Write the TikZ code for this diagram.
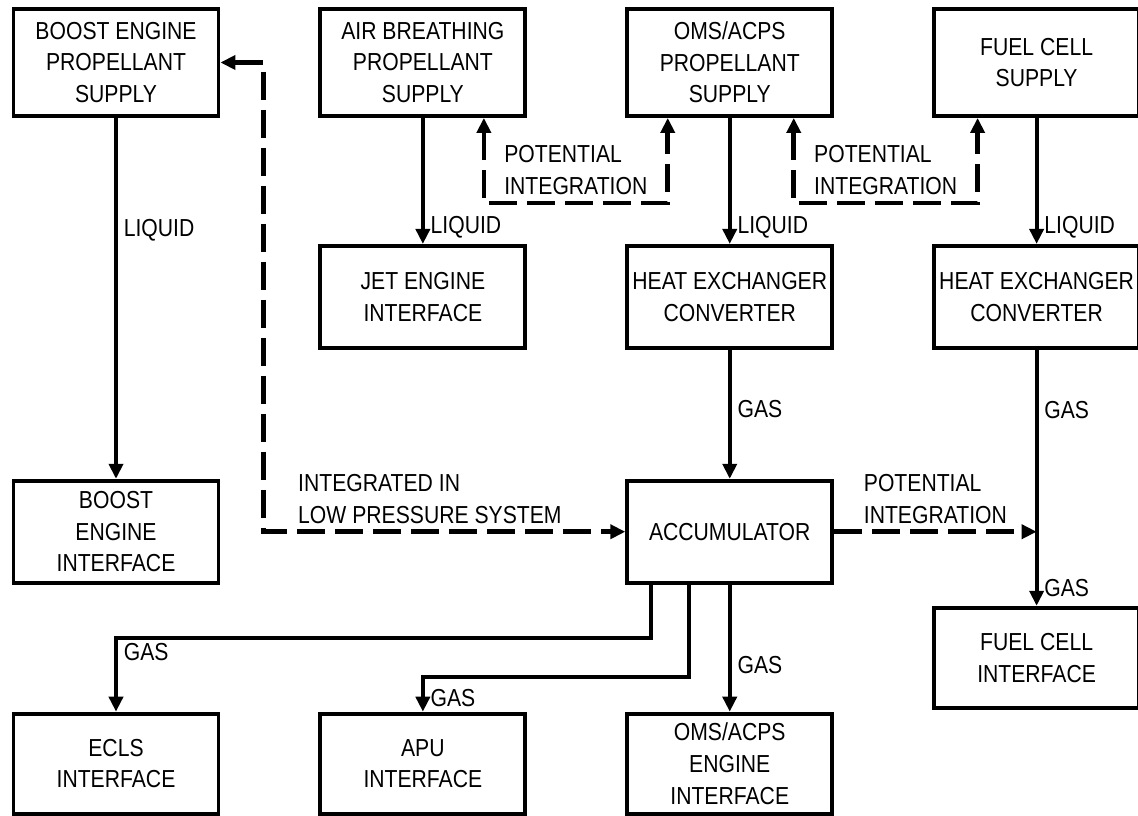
\documentclass[tikz,border=0pt]{standalone}
\usepackage{fontspec}
\setmainfont{Liberation Sans}[FakeStretch=0.86]
\usetikzlibrary{
    arrows.meta,
    positioning
}

\begin{document}
\begin{tikzpicture}[
        font=\fontsize{14}{18}\selectfont,
        node distance=2.52cm and 1.96cm,
        >={Triangle[length=0.3cm,width=0.28cm]},
        box/.style={
            rectangle,
            draw,
            line width=2.2pt,
            align=center,
            inner sep=1pt,
            minimum width=4.1cm,
            minimum height=2.04cm
        },
        supply/.style={
            box,
            minimum height=2.14cm
        },
        line/.style={
            ->,
            line width=2.2pt
        },
        dline/.style={
            line width=2.6pt,
            dash pattern=on 0.56cm off 0.2cm
        }
    ]

    \useasboundingbox (0,0) rectangle (22.76,-16.32);

    % supplies
    \node[supply] (boost) at (2.32,-1.25)
        {BOOST ENGINE\\PROPELLANT\\SUPPLY};
    \node[supply, right=of boost] (air)
        {AIR BREATHING\\PROPELLANT\\SUPPLY};
    \node[supply, right=of air] (oms)
        {OMS/ACPS\\PROPELLANT\\SUPPLY};
    \node[supply, right=of oms] (fuel)
        {FUEL CELL\\SUPPLY};

    % converters
    \node[box, below=of air] (jet)
        {JET ENGINE\\INTERFACE};
    \node[box, below=of oms] (hx1)
        {HEAT EXCHANGER\\CONVERTER};
    \node[box, below=of fuel] (hx2)
        {HEAT EXCHANGER\\CONVERTER};

    \node[box, below=2.58cm of hx1] (acc)
        {ACCUMULATOR};
    \node[box] (boostif) at (boost |- acc)
        {BOOST\\ENGINE\\INTERFACE};
    \node[box, minimum height=2.0cm, below=5.12cm of hx2] (fcif)
        {FUEL CELL\\INTERFACE};

    % interfaces
    \node[box, minimum height=2.0cm, below=2.54cm of acc] (omse)
        {OMS/ACPS\\ENGINE\\INTERFACE};
    \node[box, minimum height=2.0cm, left=of omse] (apu)
        {APU\\INTERFACE};
    \node[box, minimum height=2.0cm, left=of apu] (ecls)
        {ECLS\\INTERFACE};

    \coordinate (tap) at (acc -| hx2);

    \draw[line] (boost) -- node[right, pos=0.31] {LIQUID} (boostif);
    \draw[line] (air) -- node[right, pos=0.87] {LIQUID} (jet);
    \draw[line] (oms) -- node[right, pos=0.87] {LIQUID} (hx1);
    \draw[line] (fuel) -- node[right, pos=0.87] {LIQUID} (hx2);
    \draw[line] (hx1) -- node[right, pos=0.46] {GAS} (acc);
    \draw[line]
        (hx2)
        -- node[right, pos=0.235] {GAS}
           node[right, pos=0.93] {GAS}
        (fcif);

    \draw[line] (acc) -- node[right, pos=0.63] {GAS} (omse);
    \draw[line]
        ([xshift=-1.58cm]acc.south)
        -- ++(0,-1.06)
        -| node[right, pos=0.6] {GAS}
        (ecls.north);
    \draw[line]
        ([xshift=-0.82cm]acc.south)
        -- ++(0,-1.84)
        -| node[right, pos=0.8] {GAS}
        (apu.north);

    % potential integration
    \draw[dline, ->]
        (acc)
        -- node[above, align=left] {POTENTIAL\\INTEGRATION}
        (tap);
    \draw[dline, <->]
        (boost.east)
        -- ++(0.86,0)
        |- node[above, pos=0.73, align=left] {INTEGRATED IN\\LOW PRESSURE SYSTEM}
        (acc.west);
    \draw[dline, <->]
        ([xshift=1.22cm]air.south)
        -- ++(0,-1.7)
        -| node[above, pos=0.25, align=left] {POTENTIAL\\INTEGRATION}
        ([xshift=-1.24cm]oms.south);
    \draw[dline, <->]
        ([xshift=1.28cm]oms.south)
        -- ++(0,-1.7)
        -| node[above, pos=0.25, align=left] {POTENTIAL\\INTEGRATION}
        ([xshift=-1.18cm]fuel.south);

\end{tikzpicture}
\end{document}
